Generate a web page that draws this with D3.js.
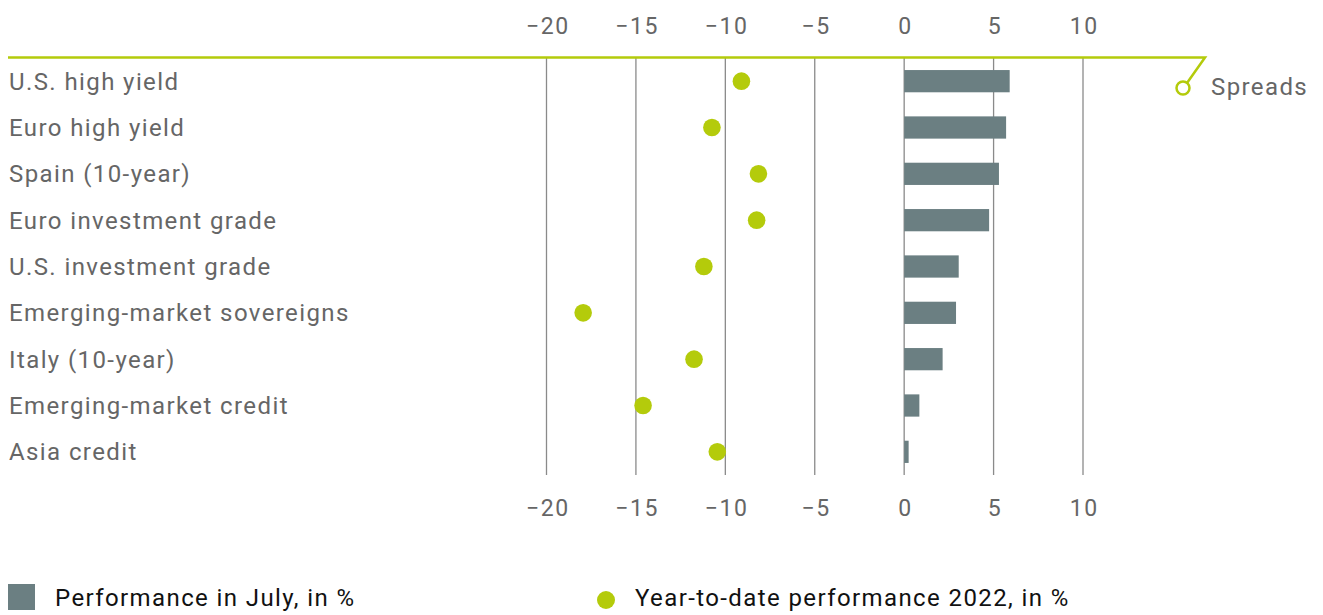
<!DOCTYPE html>
<html>
<head>
<meta charset="utf-8">
<script src="https://cdn.jsdelivr.net/npm/d3@7"></script>
<style>
  html, body { margin: 0; padding: 0; background: #fff; }
  svg { display: block; font-family: Roboto, "Noto Sans", sans-serif; }
</style>
</head>
<body>
<svg id="chart" width="1323" height="615"></svg>
<script>
// Bond market performance by segment
const categories = [
  "U.S. high yield",
  "Euro high yield",
  "Spain (10-year)",
  "Euro investment grade",
  "U.S. investment grade",
  "Emerging-market sovereigns",
  "Italy (10-year)",
  "Emerging-market credit",
  "Asia credit"
];
const julyPerf = [5.9, 5.7, 5.3, 4.75, 3.05, 2.9, 2.15, 0.85, 0.25];
const ytdPerf = [-9.1, -10.75, -8.15, -8.25, -11.2, -17.95, -11.75, -14.6, -10.45];
const tickValues = [-20, -15, -10, -5, 0, 5, 10];
const legendLabels = ["Performance in July, in %", "Year-to-date performance 2022, in %"];
const annotation = "Spreads";

const colBar = "#6b7f82";
const colDot = "#b4cb0b";
const colText = "#666666";
const colGrid = "#8a8a8a";
const fontSize = 24;
const spacing = 1.4;

const svg = d3.select("#chart");

const x = d3.scaleLinear().domain([-20, 10]).range([546.5, 1083]);
const y = d3.scaleBand().domain(categories).range([58, 475]).paddingInner(0.52).paddingOuter(0.26);

// vertical gridlines
svg.append("g").selectAll("line").data(tickValues).join("line")
  .attr("x1", d => x(d)).attr("x2", d => x(d))
  .attr("y1", 58).attr("y2", 475)
  .attr("stroke", colGrid).attr("stroke-width", 1.3);

// top and bottom tick labels via axes
const fmt = d => d < 0 ? "\u2212" + Math.abs(d) : String(d);
const topAxis = d3.axisTop(x).tickValues(tickValues).tickFormat(fmt).tickSize(0).tickPadding(0);
const botAxis = d3.axisBottom(x).tickValues(tickValues).tickFormat(fmt).tickSize(0).tickPadding(0);

const gTop = svg.append("g").attr("transform", "translate(0,34)").call(topAxis);
const gBot = svg.append("g").attr("transform", "translate(0,500)").call(botAxis);
[gTop, gBot].forEach(g => {
  g.select(".domain").remove();
  g.selectAll("text")
    .attr("fill", colText)
    .attr("font-size", 23)
    .attr("letter-spacing", 1.6)
    .attr("font-family", "Roboto, sans-serif")
    .attr("dx", 0.8);
});
gBot.selectAll("text").attr("dy", "0.71em");

// bars
svg.append("g").selectAll("rect").data(categories).join("rect")
  .attr("x", (d, i) => x(Math.min(0, julyPerf[i])))
  .attr("y", d => y(d))
  .attr("width", (d, i) => Math.abs(x(julyPerf[i]) - x(0)))
  .attr("height", y.bandwidth())
  .attr("fill", colBar);

// dots
svg.append("g").selectAll("circle").data(categories).join("circle")
  .attr("cx", (d, i) => x(ytdPerf[i]))
  .attr("cy", d => y(d) + y.bandwidth() / 2)
  .attr("r", 8.8)
  .attr("fill", colDot);

// category labels
svg.append("g").selectAll("text").data(categories).join("text")
  .attr("x", 9)
  .attr("y", d => y(d) + y.bandwidth() / 2)
  .attr("dy", "0.35em")
  .attr("fill", colText)
  .attr("font-size", fontSize)
  .attr("letter-spacing", spacing)
  .text(d => d);

// green top rule with callout
svg.append("path")
  .attr("d", "M8,57.5 L1205,57.5 L1187,83")
  .attr("fill", "none").attr("stroke", colDot).attr("stroke-width", 2.5);
svg.append("circle")
  .attr("cx", 1183).attr("cy", 88).attr("r", 6.5)
  .attr("fill", "#fff").attr("stroke", colDot).attr("stroke-width", 2.5);
svg.append("text")
  .attr("x", 1211).attr("y", 87).attr("dy", "0.35em")
  .attr("fill", colText).attr("font-size", fontSize).attr("letter-spacing", spacing)
  .text(annotation);

// legend
svg.append("rect").attr("x", 8).attr("y", 584).attr("width", 27).attr("height", 26).attr("fill", colBar);
svg.append("text").attr("x", 55).attr("y", 598).attr("dy", "0.35em")
  .attr("fill", "#111").attr("font-size", fontSize).attr("letter-spacing", spacing).text(legendLabels[0]);
svg.append("circle").attr("cx", 606).attr("cy", 600).attr("r", 9).attr("fill", colDot);
svg.append("text").attr("x", 635).attr("y", 598).attr("dy", "0.35em")
  .attr("fill", "#111").attr("font-size", fontSize).attr("letter-spacing", spacing).text(legendLabels[1]);
</script>
</body>
</html>
